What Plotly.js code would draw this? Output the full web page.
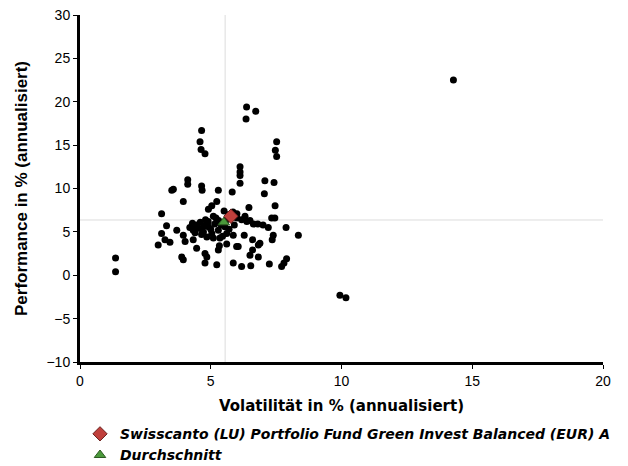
<!DOCTYPE html>
<html>
<head>
<meta charset="utf-8">
<script src="https://cdn.plot.ly/plotly-3.0.1.min.js"></script>
<style>html,body{margin:0;padding:0;background:#fff;}#chart{width:628px;height:466px;}</style>
</head>
<body>
<div id="chart"></div>
<script>
// Peer funds: volatility (x) and performance (y), % annualised
const peerVol = [4.65,4.59,4.63,4.78,6.37,6.72,6.35,7.52,7.47,7.52,6.12,6.12,6.12,6.12,7.07,7.42,7.05,5.82,5.29,4.65,4.67,4.12,4.12,3.57,3.51,7.46,6.46,3.95,3.12,5.23,5.04,4.91,5.51,6.0,6.31,7.33,7.45,5.1,3.31,3.70,3.12,3.25,2.99,3.44,3.95,4.02,4.33,4.46,4.78,4.85,4.78,3.89,3.95,5.23,5.29,5.33,5.61,5.1,5.86,6.05,5.86,6.18,6.53,6.28,6.6,6.82,6.6,6.5,6.82,7.2,7.39,7.35,7.24,7.88,8.35,7.71,7.8,7.9,1.36,1.36,6.63,6.38,6.18,4.46,4.59,4.72,4.91,4.33,5.04,5.29,5.54,5.61,6.88,5.99,5.35,4.3,4.45,4.6,4.75,4.9,5.0,5.15,4.4,4.65,4.85,5.3,5.4,5.6,5.7,5.45,5.9,6.0,6.5,6.8,7.0,5.2,4.8,4.2,5.85,5.7,14.28,9.94,10.17];
const peerPerf = [16.7,15.4,14.5,14.0,19.4,18.9,18.0,15.4,14.4,13.7,12.5,11.9,11.5,10.6,10.9,10.7,9.4,9.6,9.8,10.3,9.8,11.0,10.5,9.9,9.8,8.0,7.8,8.5,7.1,8.5,8.0,7.6,7.4,7.1,6.8,6.6,6.6,6.8,5.7,5.2,4.8,4.1,3.5,3.8,4.6,3.9,4.1,3.1,2.5,2.1,1.4,2.1,1.8,1.2,2.9,3.4,3.6,4.3,4.6,3.3,1.4,1.0,1.1,4.6,4.1,3.5,2.9,2.3,2.1,5.5,4.6,4.1,1.3,5.5,4.6,1.0,1.4,1.9,2.0,0.4,5.9,6.2,6.4,5.8,5.4,5.0,5.6,5.2,4.8,5.2,5.6,4.8,3.7,3.3,4.3,6.0,5.5,6.1,5.7,6.2,5.3,5.9,4.9,4.7,4.4,6.3,5.8,6.4,5.3,4.5,5.8,6.6,6.3,5.9,5.8,6.6,6.4,5.5,7.3,7.0,22.5,-2.3,-2.6];
const fundName = ["Swisscanto (LU) Portfolio Fund Green Invest Balanced (EUR) A"];
const fundVol = [5.77];
const fundPerf = [6.8];
const avgName = ["Durchschnitt"];
const avgVol = [5.5];
const avgPerf = [6.1];
const lineVol = [5.55];
const linePerf = [6.37];
const xTicks = [0,5,10,15,20];
const yTicks = [-10,-5,0,5,10,15,20,25,30];

const font = 'Liberation Sans, Arial, sans-serif';
const dv = 'DejaVu Sans, Verdana, sans-serif';
const traces = [
  {x: peerVol, y: peerPerf, type:'scatter', mode:'markers', showlegend:false,
   marker:{color:'#000', size:7}, hoverinfo:'x+y'},
  {x: avgVol, y: avgPerf, type:'scatter', mode:'markers', name: avgName[0],
   marker:{color:'#4b9a3c', symbol:'triangle-up', size:10, line:{color:'#2d5a22', width:1}}},
  {x: fundVol, y: fundPerf, type:'scatter', mode:'markers', name: fundName[0],
   marker:{color:'#c0403c', symbol:'diamond', size:11, line:{color:'#6a1f1c', width:1}}}
];
const layout = {
  width:628, height:466,
  margin:{l:80, r:25, t:15, b:104, autoexpand:false},
  paper_bgcolor:'#fff', plot_bgcolor:'#fff',
  font:{family:font, size:13, color:'#000'},
  showlegend:true,
  legend:{x:0.0, y:-0.162, xanchor:'left', yanchor:'top', orientation:'v',
          traceorder:'reversed', tracegroupgap:0, itemwidth:30,
          font:{family:dv, size:14, style:'italic', weight:'bold', color:'#000'},
          bgcolor:'rgba(0,0,0,0)'},
  xaxis:{range:[0,20], tickvals:xTicks, ticktext:xTicks.map(String), showgrid:false, zeroline:false,
         showline:true, linecolor:'#000', linewidth:3, ticks:'outside', ticklen:4, tickcolor:'#000',
         tickfont:{family:font, size:14}, fixedrange:true,
         title:{text:'Volatilität in % (annualisiert)', font:{family:dv, size:15, weight:'bold'}, standoff:13}},
  yaxis:{range:[-10,30], tickvals:yTicks, ticktext:yTicks.map(v=>v<0?'\u2212'+Math.abs(v):String(v)), showgrid:false, zeroline:false,
         showline:true, linecolor:'#000', linewidth:3, ticks:'outside', ticklen:4, tickcolor:'#000',
         tickfont:{family:font, size:14}, fixedrange:true,
         title:{text:'Performance in % (annualisiert)', font:{family:font, size:17, weight:'bold'}, standoff:15}},
  shapes:[
    {type:'line', layer:'below', xref:'x', yref:'paper', x0:lineVol[0], x1:lineVol[0], y0:0, y1:1, line:{color:'#dddddd', width:1}},
    {type:'line', layer:'below', xref:'paper', yref:'y', x0:0, x1:1, y0:linePerf[0], y1:linePerf[0], line:{color:'#dddddd', width:1}}
  ]
};
Plotly.newPlot('chart', traces, layout, {displayModeBar:false, staticPlot:true});
</script>
</body>
</html>
